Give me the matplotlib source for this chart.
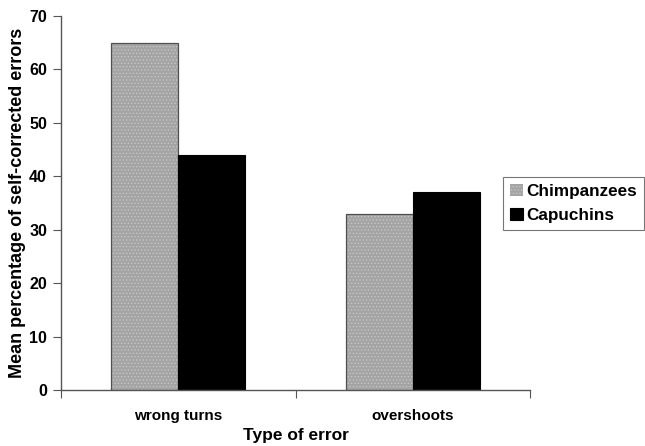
import matplotlib
matplotlib.use("Agg")
import matplotlib.pyplot as plt
import numpy as np

categories = ["wrong turns", "overshoots"]
chimpanzees = [65, 33]
capuchins = [44, 37]
y_ticks = [0, 10, 20, 30, 40, 50, 60, 70]

plt.rcParams['font.family'] = ['Liberation Sans', 'DejaVu Sans']
plt.rcParams['hatch.linewidth'] = 0.6

fig = plt.figure(figsize=(6.45, 4.46), dpi=100)
ax = fig.add_axes([61/645, 1-390/446, (530-61)/645, (390-16)/446])

centers = np.arange(len(categories)) + 0.5
w = 0.286
chimp = ax.bar(centers - w/2, chimpanzees, width=w, facecolor='#a4a4a4', edgecolor='#c6c6c6',
               linewidth=0, hatch='.....', label='Chimpanzees')
ax.bar(centers - w/2, chimpanzees, width=w, fill=False, edgecolor='#505050', linewidth=0.9)
cap = ax.bar(centers + w/2, capuchins, width=w, facecolor='black', edgecolor='black',
             linewidth=0.8, label='Capuchins')

ax.set_xlim(0, len(categories))
ax.set_ylim(0, 70)
ax.set_yticks(y_ticks)
ax.set_yticklabels([str(v) for v in y_ticks], fontsize=11.5, fontweight='bold')
ax.set_xticks(np.arange(len(categories) + 1))
ax.set_xticklabels([])
ax.set_xticks(centers, minor=True)
ax.set_xticklabels(categories, minor=True, fontsize=11, fontweight='bold')
ax.tick_params(axis='x', which='minor', length=0, pad=14)
ax.tick_params(axis='x', which='major', length=6, direction='out', color='#555555')
ax.tick_params(axis='y', length=6, direction='out', color='#555555', pad=4)

for s in ['top', 'right']:
    ax.spines[s].set_visible(False)
for s in ['left', 'bottom']:
    ax.spines[s].set_color('#555555')
    ax.spines[s].set_linewidth(1.0)

ax.set_ylabel('Mean percentage of self-corrected errors', fontsize=13, fontweight='bold')
ax.yaxis.set_label_coords(-(61 - 26) / 469, 0.5)
ax.set_xlabel('Type of error', fontsize=12.5, fontweight='bold')
ax.xaxis.set_label_coords(0.5, (390 - 428) / 374)

leg = fig.legend(handles=[chimp, cap], labels=['Chimpanzees', 'Capuchins'],
                 loc='upper left', bbox_to_anchor=(503/645, 1-177/446), frameon=True,
                 fancybox=False, edgecolor='#555555',
                 prop={'weight': 'bold', 'size': 12.3},
                 handlelength=0.75, handleheight=0.75, handletextpad=0.2,
                 borderpad=0.4, labelspacing=0.5, borderaxespad=0)
leg.get_frame().set_linewidth(0.8)

fig.savefig('out.png', dpi=100)
